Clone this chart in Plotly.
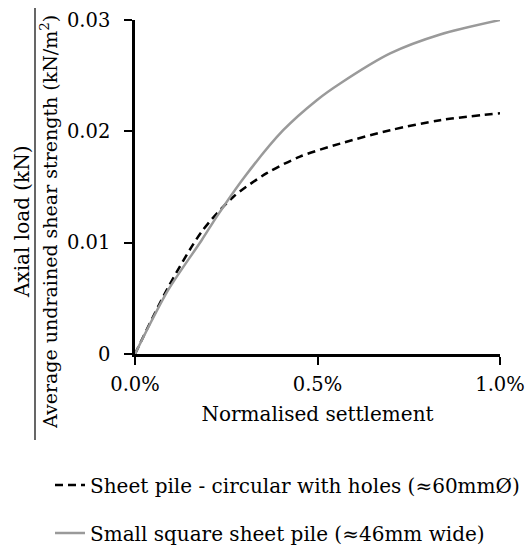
import plotly.graph_objects as go

# Normalised settlement (%) and normalised axial load
settle_circ = [0.0, 0.091, 0.183, 0.269, 0.361, 0.452, 0.562, 0.699, 0.836, 1.0]
load_circ = [0.0, 0.0060, 0.0110, 0.0141, 0.01624, 0.01773, 0.0189, 0.0201, 0.0210, 0.02163]

settle_sq = [0.0, 0.091, 0.183, 0.224, 0.30, 0.406, 0.498, 0.562, 0.699, 0.836, 1.0]
load_sq = [0.0, 0.00575, 0.01024, 0.01234, 0.0159, 0.0201, 0.0228, 0.0243, 0.0270, 0.0287, 0.0300]

name_circ = "Sheet pile - circular with holes (≈60mmØ)"
name_sq = "Small square sheet pile (≈46mm wide)"

x_ticks = [0.0, 0.5, 1.0]
x_ticktext = ["0.0%", "0.5%", "1.0%"]
y_ticks = [0, 0.01, 0.02, 0.03]
y_ticktext = ["0", "0.01", "0.02", "0.03"]

FONT = "DejaVu Serif"
FS = 20
FS_TICK = 19.5
FS_LONG = 19

W, H = 525, 556
L, R, T, B = 135, 25, 20, 202
PW, PH = W - L - R, H - T - B

def px(xp):
    return (xp - L) / PW

def py(yp):
    return (H - B - yp) / PH

fig = go.Figure()
fig.add_trace(go.Scatter(
    x=settle_circ, y=load_circ, mode="lines", name=name_circ,
    line=dict(color="black", width=2.5, dash="8px,5px", shape="spline", smoothing=0.8),
    cliponaxis=False, legend="legend",
))
fig.add_trace(go.Scatter(
    x=settle_sq, y=load_sq, mode="lines", name=name_sq,
    line=dict(color="#9a9a9a", width=2.5, shape="spline", smoothing=0.8),
    cliponaxis=False, legend="legend2",
))

fig.update_layout(
    width=W, height=H,
    margin=dict(l=L, r=R, t=T, b=B, autoexpand=False),
    paper_bgcolor="white", plot_bgcolor="white",
    font=dict(family=FONT, size=FS, color="black"),
    showlegend=True,
    legend=dict(x=px(50), y=py(485), xanchor="left", yanchor="middle",
                bgcolor="rgba(0,0,0,0)", font=dict(family=FONT, size=FS)),
    legend2=dict(x=px(50), y=py(533), xanchor="left", yanchor="middle",
                 bgcolor="rgba(0,0,0,0)", font=dict(family=FONT, size=FS)),
    xaxis=dict(
        range=[0, 1.0], tickvals=x_ticks, ticktext=x_ticktext, automargin=False,
        showgrid=False, zeroline=False, showline=True, linecolor="black", linewidth=2.5,
        ticks="outside", ticklen=8, tickwidth=2, tickcolor="black", ticklabelstandoff=3,
        ticklabeloverflow="allow",
        tickfont=dict(family=FONT, size=FS_TICK),
        title=dict(text="Normalised settlement", standoff=12, font=dict(family=FONT, size=FS)),
    ),
    yaxis=dict(
        range=[0, 0.03], tickvals=y_ticks, ticktext=y_ticktext, automargin=False,
        showgrid=False, zeroline=False, showline=True, linecolor="black", linewidth=2.5,
        ticks="outside", ticklen=8, tickwidth=2, tickcolor="black", ticklabelstandoff=10,
        ticklabeloverflow="allow",
        tickfont=dict(family=FONT, size=FS_TICK),
    ),
    annotations=[
        dict(text="Axial load (kN)", textangle=-90, xref="paper", yref="paper",
             x=px(22), y=py(222), xanchor="center", yanchor="middle",
             showarrow=False, font=dict(family=FONT, size=FS)),
        dict(text="Average undrained shear strength (kN/m<sup>2</sup>)", textangle=-90,
             xref="paper", yref="paper", x=px(49), y=py(222),
             xanchor="center", yanchor="middle", showarrow=False,
             font=dict(family=FONT, size=FS_LONG)),
    ],
    shapes=[
        dict(type="line", xref="paper", yref="paper",
             x0=px(35), x1=px(35), y0=py(440), y1=py(8),
             line=dict(color="black", width=1.2)),
    ],
)

fig.write_html("out.html")
